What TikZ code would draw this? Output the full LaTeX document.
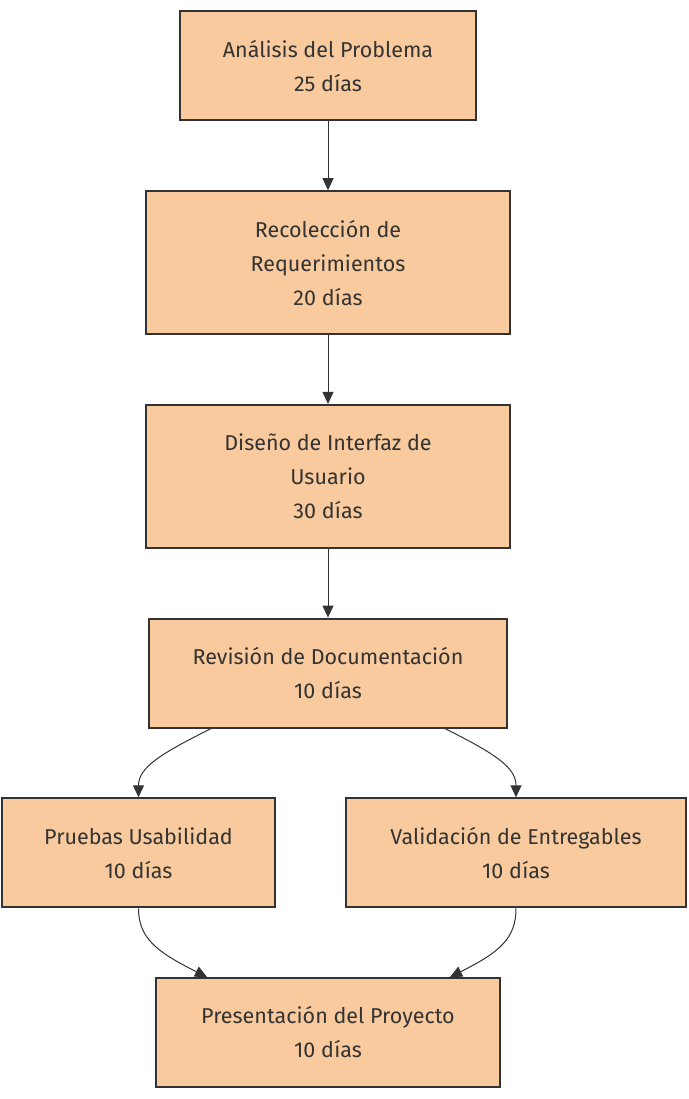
\documentclass[tikz,border=0pt]{standalone}
\usepackage{fontspec}
\setmainfont{Fira Sans}
\usepackage{tikz}
\usetikzlibrary{arrows.meta,positioning}
\definecolor{naranja}{RGB}{248,202,157}
\definecolor{borde}{RGB}{51,51,51}

\begin{document}
\begin{tikzpicture}[x=1pt, y=1pt, node distance=68.7pt, inner sep=0pt]
    \tikzstyle{tarea}=[rectangle, fill=naranja, draw=borde, line width=2pt, text=borde, align=center, minimum height=109pt, font=\fontsize{21.5}{34}\selectfont]
    \tikzstyle{fl}=[->, draw=borde, >={Triangle[length=12pt,width=11pt]}, line width=1pt]

    \useasboundingbox (0,0) rectangle (688,-1099);

    \node[tarea, minimum width=296pt] (AP) at (328,-66) {Análisis del Problema\\25 días};
    \node[tarea, minimum width=364pt, minimum height=143pt] (RR) [below=of AP] {Recolección de\\Requerimientos\\20 días};
    \node[tarea, minimum width=364pt, minimum height=143pt] (DI) [below=of RR] {Diseño de Interfaz de\\Usuario\\30 días};
    \node[tarea, minimum width=358pt] (RD) [below=of DI] {Revisión de Documentación\\10 días};

    \node[tarea, minimum width=273pt] (PU) [below=of RD, xshift=-189.5pt] {Pruebas Usabilidad\\10 días};
    \node[tarea, minimum width=340pt] (VE) [below=of RD, xshift=188pt] {Validación de Entregables\\10 días};

    \node[tarea, minimum width=344pt] (PP) [below=of PU, xshift=189.5pt] {Presentación del Proyecto\\10 días};

    % flechas...
    \draw[fl] (AP) -- (RR);
    \draw[fl] (RR) -- (DI);
    \draw[fl] (DI) -- (RD);

    \draw[fl] ([xshift=-117pt] RD.south) .. controls +(-50,-25) and +(0,30) .. (PU.north);
    \draw[fl] ([xshift=117pt] RD.south) .. controls +(50,-25) and +(0,30) .. (VE.north);

    \draw[fl] (PU.south) .. controls +(0,-30) and +(-50,25) .. ([xshift=-121pt] PP.north);
    \draw[fl] (VE.south) .. controls +(0,-30) and +(50,25) .. ([xshift=122pt] PP.north);
\end{tikzpicture}
\end{document}
